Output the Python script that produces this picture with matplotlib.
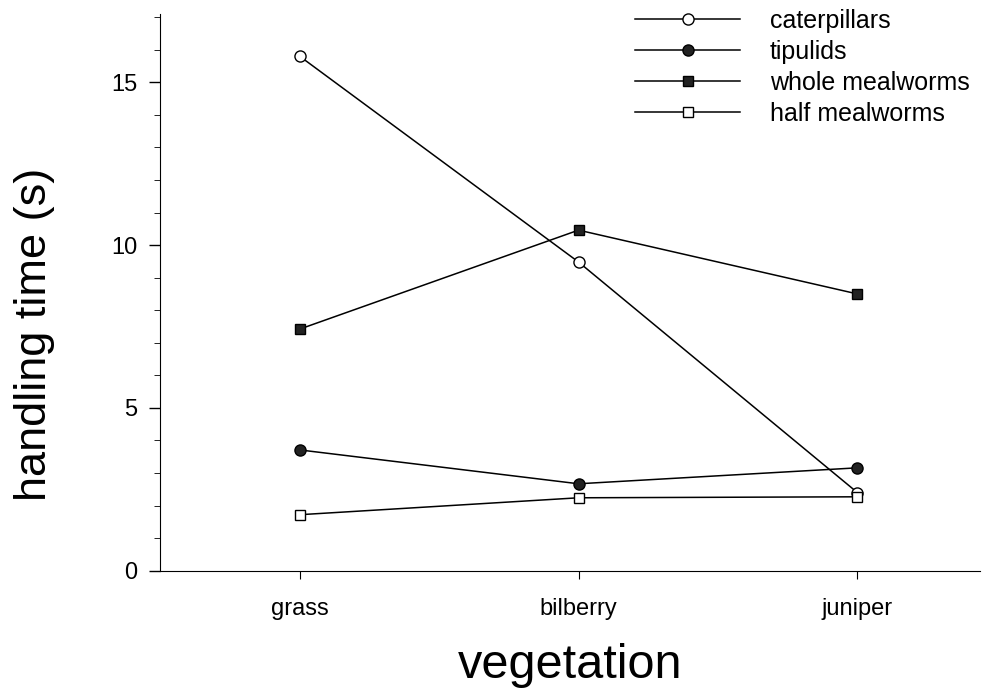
import matplotlib.pyplot as plt
from matplotlib.ticker import MultipleLocator

plt.rcParams['font.family'] = ['Liberation Sans', 'DejaVu Sans']

vegetation = ['grass', 'bilberry', 'juniper']
caterpillars = [15.8, 9.48, 2.4]
tipulids = [3.71, 2.67, 3.16]
whole_mealworms = [7.42, 10.46, 8.5]
half_mealworms = [1.72, 2.24, 2.27]

x = [1, 2, 3]

fig = plt.figure(figsize=(9.92, 6.96), dpi=100)
ax = fig.add_axes([0.161, 0.18, 0.827, 0.80])

ax.plot(x, caterpillars, 'k-', marker='o', mfc='white', mec='black', ms=8, lw=1.1, label='caterpillars')
ax.plot(x, tipulids, 'k-', marker='o', mfc='#222222', mec='black', ms=8, lw=1.1, label='tipulids')
ax.plot(x, whole_mealworms, 'k-', marker='s', mfc='#222222', mec='black', ms=7.5, lw=1.1, label='whole mealworms')
ax.plot(x, half_mealworms, 'k-', marker='s', mfc='white', mec='black', ms=7.5, lw=1.1, label='half mealworms')

ax.set_xlim(0.498, 3.44)
ax.set_ylim(0, 17.1)
ax.set_xticks(x)
ax.set_xticklabels(vegetation, fontsize=17)
ax.set_yticks([0, 5, 10, 15])
ax.yaxis.set_minor_locator(MultipleLocator(1))
ax.tick_params(axis='y', labelsize=17, length=8, width=1, direction='out', pad=8)
ax.tick_params(axis='y', which='minor', length=4)
ax.tick_params(axis='x', length=6, pad=14)

ax.spines['top'].set_visible(False)
ax.spines['right'].set_visible(False)

ax.set_ylabel('handling time (s)', fontsize=32.5)
ax.yaxis.set_label_coords(-0.128, 0.424)
ax.set_xlabel('vegetation', fontsize=35, labelpad=16)

ax.legend(loc='upper left', bbox_to_anchor=(0.552, 1.05), frameon=False,
          fontsize=18, handlelength=4.2, handletextpad=1.2, labelspacing=0.28)

fig.savefig('out.png', dpi=100)
